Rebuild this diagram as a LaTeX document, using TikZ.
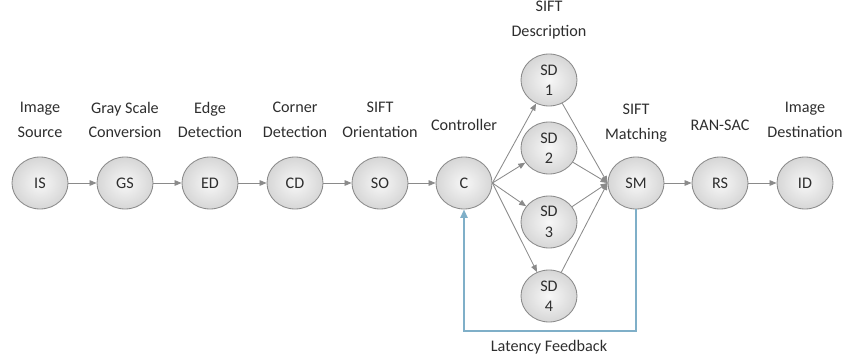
\documentclass[tikz,border=0pt]{standalone}
\usepackage{fontspec}
\setmainfont{Carlito}
\usetikzlibrary{arrows.meta, shapes.geometric}

\definecolor{txtgray}{HTML}{2E2E2E}
\definecolor{linegray}{HTML}{8A8A8A}
\definecolor{fbblue}{HTML}{7FAFC8}

\begin{document}
\begin{tikzpicture}[
    x=0.025cm, y=-0.025cm,
    every node/.style={font=\fontsize{11.5}{17.5}\selectfont, text=txtgray},
    stage/.style={ellipse, draw=linegray, line width=0.6pt,
        inner color=gray!6, outer color=gray!32,
        minimum width=1.4cm, minimum height=1.3cm, inner sep=0pt, align=center},
    lbl/.style={align=center},
    flow/.style={draw=linegray, line width=0.6pt, -{Triangle[length=5pt, width=4pt]}},
    feedback/.style={draw=fbblue, line width=1.4pt, -{Triangle[length=6pt, width=5pt]}}
]
\useasboundingbox (0,0) rectangle (842,360);

% --- Pipeline stages ---
\node[stage] (is) at (40,183)  {IS};
\node[stage] (gs) at (125,183) {GS};
\node[stage] (ed) at (210,183) {ED};
\node[stage] (cd) at (295,183) {CD};
\node[stage] (so) at (380,183) {SO};
\node[stage] (c)  at (464,183) {C};
\node[stage] (sm) at (636,183) {SM};
\node[stage] (rs) at (720,183) {RS};
\node[stage] (id) at (805,183) {ID};

% --- Parallel SIFT descriptors ---
\node[stage] (sd1) at (549,80)  {SD\\[-3pt]1};
\node[stage] (sd2) at (549,148) {SD\\[-3pt]2};
\node[stage] (sd3) at (549,222) {SD\\[-3pt]3};
\node[stage] (sd4) at (549,296) {SD\\[-3pt]4};

% --- Stage labels ---
\node[lbl] (lis) at (40,120)  {Image\\Source};
\node[lbl] (lgs) at (125,120) {Gray Scale\\Conversion};
\node[lbl] (led) at (210,120) {Edge\\Detection};
\node[lbl] (lcd) at (295,120) {Corner\\Detection};
\node[lbl] (lso) at (380,120) {SIFT\\Orientation};
\node[lbl] (lc)  at (464,125) {Controller};
\node[lbl] (lsd) at (549,20)  {SIFT\\Description};
\node[lbl] (lsm) at (636,123) {SIFT\\Matching};
\node[lbl] (lrs) at (720,125) {RAN-SAC};
\node[lbl] (lid) at (805,120) {Image\\Destination};

% --- Forward flow ---
\draw[flow] (is) -- (gs);
\draw[flow] (gs) -- (ed);
\draw[flow] (ed) -- (cd);
\draw[flow] (cd) -- (so);
\draw[flow] (so) -- (c);
\foreach \n in {sd1,sd2,sd3,sd4} {
    \draw[flow] (c.east) -- (\n);
    \draw[flow] (\n) -- (sm.west);
}
\draw[flow] (sm) -- (rs);
\draw[flow] (rs) -- (id);

% --- Latency feedback loop ---
\draw[feedback] (sm.south) -- ++(0,122) -| (c.south);
\node[lbl] (lfb) at (549,347) {Latency Feedback};

\end{tikzpicture}
\end{document}
